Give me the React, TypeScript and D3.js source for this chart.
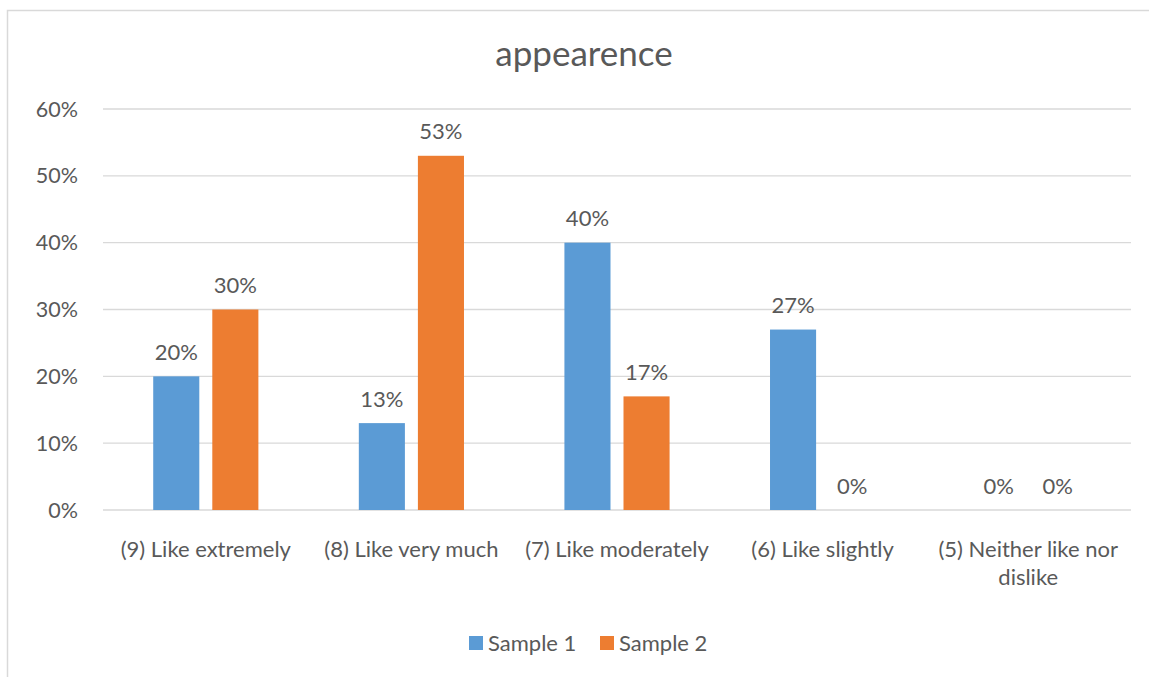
import React, { useEffect, useRef } from "react";
import * as d3 from "d3";

const title = "appearence";
const categories = [
  "(9) Like extremely",
  "(8) Like very much",
  "(7) Like moderately",
  "(6) Like slightly",
  "(5) Neither like nor dislike",
];
const seriesNames = ["Sample 1", "Sample 2"];
const sample1 = [0.2, 0.13, 0.4, 0.27, 0];
const sample2 = [0.3, 0.53, 0.17, 0, 0];
const yTicks = [0, 0.1, 0.2, 0.3, 0.4, 0.5, 0.6];
const colors = ["#5B9BD5", "#ED7D31"];

const W = 1149;
const H = 677;
const FONT = "Lato, 'Open Sans', sans-serif";
const TEXT = "#595959";

export default function App() {
  const ref = useRef<SVGSVGElement | null>(null);

  useEffect(() => {
    const svg = d3.select(ref.current);
    svg.selectAll("*").remove();

    const m = { left: 103, right: 18, top: 109, bottom: 167 };
    const x0 = d3
      .scaleBand<string>()
      .domain(categories)
      .range([m.left, W - m.right]);
    const x1 = d3
      .scaleBand<string>()
      .domain(seriesNames)
      .range([0, x0.bandwidth()])
      .paddingInner(0.22)
      .paddingOuter(0.85);
    const y = d3.scaleLinear().domain([0, 0.6]).range([H - m.bottom, m.top]);

    // chart frame
    svg
      .append("rect")
      .attr("x", 7.5)
      .attr("y", 10.5)
      .attr("width", W + 20)
      .attr("height", H + 20)
      .attr("fill", "white")
      .attr("stroke", "#D9D9D9")
      .attr("stroke-width", 1.5);

    // title
    svg
      .append("text")
      .attr("x", 584)
      .attr("y", 66)
      .attr("text-anchor", "middle")
      .attr("font-family", FONT)
      .attr("font-size", 35)
      .attr("fill", TEXT)
      .text(title);

    // gridlines and y tick labels
    const grid = svg.append("g");
    yTicks.forEach((t) => {
      grid
        .append("line")
        .attr("x1", m.left)
        .attr("x2", W - m.right)
        .attr("y1", y(t))
        .attr("y2", y(t))
        .attr("stroke", "#D9D9D9")
        .attr("stroke-width", 1.3);
      grid
        .append("text")
        .attr("x", 78)
        .attr("y", y(t))
        .attr("dy", "0.35em")
        .attr("text-anchor", "end")
        .attr("font-family", FONT)
        .attr("font-size", 21.5)
        .attr("fill", TEXT)
        .text(d3.format(".0%")(t));
    });

    const series = [sample1, sample2];
    const groups = svg
      .selectAll("g.cat")
      .data(categories)
      .join("g")
      .attr("class", "cat")
      .attr("transform", (d) => `translate(${x0(d)},0)`);

    series.forEach((vals, si) => {
      const name = seriesNames[si];
      groups
        .append("rect")
        .attr("x", x1(name)!)
        .attr("width", x1.bandwidth())
        .attr("y", (_, i) => y(vals[i]))
        .attr("height", (_, i) => y(0) - y(vals[i]))
        .attr("fill", colors[si]);
      groups
        .append("text")
        .attr("x", x1(name)! + x1.bandwidth() / 2)
        .attr("y", (_, i) => y(vals[i]) - 24)
        .attr("dy", "0.35em")
        .attr("text-anchor", "middle")
        .attr("font-family", FONT)
        .attr("font-size", 22)
        .attr("fill", TEXT)
        .text((_, i) => d3.format(".0%")(vals[i]));
    });

    // category labels with word wrap
    const maxW = x0.bandwidth() - 10;
    groups.each(function (d) {
      const g = d3.select(this);
      const t = g
        .append("text")
        .attr("x", x0.bandwidth() / 2)
        .attr("y", 557)
        .attr("text-anchor", "middle")
        .attr("font-family", FONT)
        .attr("font-size", 22)
        .attr("fill", TEXT);
      const words = d.split(" ");
      let line: string[] = [];
      let tspan = t.append("tspan").attr("x", x0.bandwidth() / 2).attr("dy", 0);
      words.forEach((w) => {
        line.push(w);
        tspan.text(line.join(" "));
        if ((tspan.node() as SVGTSpanElement).getComputedTextLength() > maxW && line.length > 1) {
          line.pop();
          tspan.text(line.join(" "));
          line = [w];
          tspan = t
            .append("tspan")
            .attr("x", x0.bandwidth() / 2)
            .attr("dy", 28)
            .text(w);
        }
      });
    });

    // legend
    const legend = svg.append("g").attr("transform", "translate(469,636)");
    const items = [0, 131];
    seriesNames.forEach((n, i) => {
      legend
        .append("rect")
        .attr("x", items[i])
        .attr("y", 0)
        .attr("width", 14)
        .attr("height", 14)
        .attr("fill", colors[i]);
      legend
        .append("text")
        .attr("x", items[i] + 19)
        .attr("y", 7)
        .attr("dy", "0.35em")
        .attr("font-family", FONT)
        .attr("font-size", 22)
        .attr("fill", TEXT)
        .text(n);
    });
  }, []);

  return (
    <svg
      ref={ref}
      width={W}
      height={H}
      style={{ position: "absolute", left: 0, top: 0, display: "block" }}
    />
  );
}
